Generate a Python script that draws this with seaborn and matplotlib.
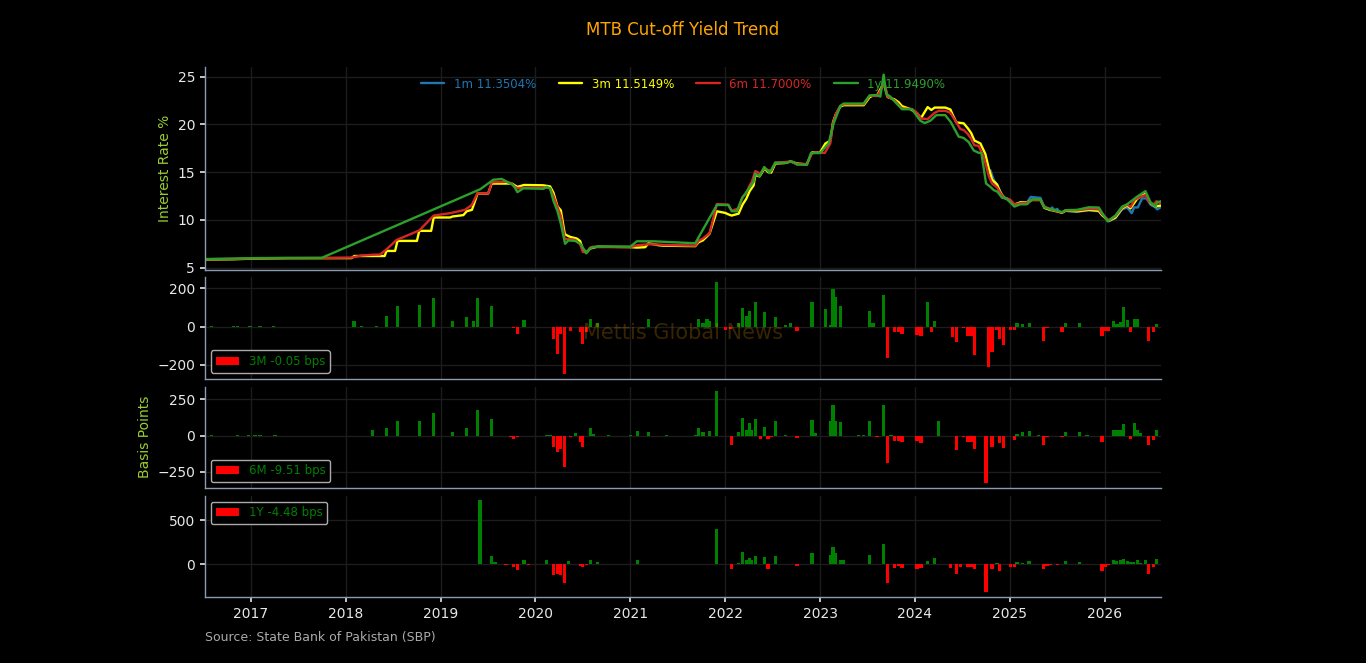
import numpy as np
import pandas as pd
import matplotlib
matplotlib.use("Agg")
import matplotlib.pyplot as plt
from matplotlib.patches import Patch
from matplotlib.lines import Line2D
from matplotlib.ticker import MultipleLocator, FormatStrFormatter
import seaborn as sns

# ---------------- data (x = decimal year) ----------------
t3m = [2016.515, 2016.81, 2017.04, 2017.39, 2018.06, 2018.09, 2018.41, 2018.43, 2018.52, 2018.545,
       2018.75, 2018.775, 2018.90, 2018.927, 2019.10, 2019.124, 2019.24, 2019.275, 2019.33, 2019.36,
       2019.388, 2019.50, 2019.539, 2019.75, 2019.809, 2019.88, 2020.08, 2020.154, 2020.189, 2020.232,
       2020.267, 2020.309, 2020.348, 2020.372, 2020.435, 2020.471, 2020.499, 2020.541, 2020.576, 2020.654,
       2021.00, 2021.07, 2021.156, 2021.191, 2021.244, 2021.297, 2021.343, 2021.684, 2021.719, 2021.765,
       2021.807, 2021.835, 2021.912, 2022.00, 2022.028, 2022.067, 2022.141, 2022.183, 2022.222, 2022.257,
       2022.299, 2022.317, 2022.362, 2022.415, 2022.45, 2022.485, 2022.528, 2022.633, 2022.686, 2022.756,
       2022.86, 2022.914, 2023.00, 2023.055, 2023.108, 2023.136, 2023.164, 2023.213, 2023.248, 2023.46,
       2023.523, 2023.558, 2023.60, 2023.67, 2023.713, 2023.786, 2023.829, 2023.864, 2023.95, 2024.022,
       2024.064, 2024.134, 2024.173, 2024.208, 2024.32, 2024.374, 2024.398, 2024.437, 2024.514, 2024.556,
       2024.592, 2024.627, 2024.69, 2024.742, 2024.778, 2024.813, 2024.866, 2024.894, 2024.936, 2024.964,
       2025.006, 2025.048, 2025.112, 2025.182, 2025.235, 2025.323, 2025.365, 2025.428, 2025.551, 2025.586,
       2025.71, 2025.833, 2025.938, 2025.973, 2026.044, 2026.114, 2026.184, 2026.237, 2026.272, 2026.342,
       2026.43, 2026.483, 2026.536, 2026.595]
y3m = [5.85, 5.88, 5.95, 5.99, 6.00, 6.22, 6.22, 6.75, 6.75, 7.8,
       7.8, 8.85, 8.85, 10.25, 10.25, 10.35, 10.5, 10.9, 11.05, 11.9,
       12.75, 12.75, 13.8, 13.8, 13.45, 13.65, 13.62, 13.5, 12.85, 11.4,
       11.0, 8.5, 8.3, 8.2, 8.05, 7.78, 6.9, 6.6, 7.0, 7.2,
       7.15, 7.1, 7.14, 7.55, 7.45, 7.35, 7.3, 7.25, 7.66, 7.86,
       8.27, 8.56, 10.9, 10.73, 10.6, 10.45, 10.65, 11.6, 12.2, 13.0,
       13.6, 14.7, 14.55, 15.4, 15.0, 14.95, 15.9, 15.95, 16.12, 15.9,
       15.8, 17.05, 17.05, 17.98, 18.3, 20.2, 21.0, 21.85, 22.0, 22.0,
       22.85, 23.0, 23.0, 24.3, 22.85, 22.6, 22.3, 21.9, 21.6, 21.15,
       20.65, 21.8, 21.5, 21.75, 21.75, 21.55, 21.0, 20.2, 20.1, 19.6,
       19.1, 18.3, 18.0, 16.9, 15.4, 14.2, 13.7, 13.0, 12.3, 12.25,
       12.0, 11.6, 11.84, 11.84, 12.08, 12.08, 11.25, 11.05, 10.75, 10.95,
       10.9, 11.05, 10.95, 10.5, 9.9, 10.25, 11.2, 11.5, 11.2, 12.2,
       12.75, 11.75, 11.4, 11.5149]

t6m = [2016.515, 2016.81, 2017.04, 2017.39, 2017.75, 2018.06, 2018.167, 2018.284, 2018.361, 2018.43,
       2018.536, 2018.776, 2018.927, 2019.10, 2019.257, 2019.328, 2019.388, 2019.503, 2019.539, 2019.697,
       2019.743, 2019.767, 2019.809, 2019.873, 2020.119, 2020.154, 2020.189, 2020.232, 2020.267, 2020.309,
       2020.40, 2020.418, 2020.471, 2020.499, 2020.541, 2020.576, 2020.611, 2020.65, 2021.0, 2021.075,
       2021.2, 2021.297, 2021.35, 2021.684, 2021.719, 2021.765, 2021.835, 2021.912, 2022.028, 2022.067,
       2022.141, 2022.183, 2022.222, 2022.257, 2022.281, 2022.317, 2022.369, 2022.415, 2022.45, 2022.485,
       2022.528, 2022.633, 2022.686, 2022.756, 2022.86, 2022.914, 2022.95, 2023.05, 2023.108, 2023.136,
       2023.164, 2023.213, 2023.25, 2023.459, 2023.523, 2023.6, 2023.645, 2023.677, 2023.713, 2023.786,
       2023.829, 2023.864, 2023.97, 2024.022, 2024.064, 2024.134, 2024.208, 2024.251, 2024.32, 2024.374,
       2024.437, 2024.479, 2024.514, 2024.556, 2024.592, 2024.627, 2024.672, 2024.725, 2024.75, 2024.778,
       2024.813, 2024.866, 2024.894, 2024.936, 2024.97, 2025.006, 2025.049, 2025.112, 2025.182, 2025.235,
       2025.323, 2025.358, 2025.428, 2025.551, 2025.586, 2025.71, 2025.833, 2025.938, 2025.973, 2026.044,
       2026.114, 2026.184, 2026.237, 2026.272, 2026.315, 2026.35, 2026.43, 2026.466, 2026.512, 2026.547,
       2026.595]
y6m = [5.88, 5.92, 5.98, 6.01, 6.02, 6.05, 6.27, 6.35, 6.37, 6.92,
       7.9, 8.9, 10.45, 10.7, 11.05, 11.56, 12.77, 12.77, 13.95, 13.98,
       13.85, 13.55, 13.3, 13.36, 13.36, 13.3, 12.5, 11.35, 10.4, 8.0,
       7.94, 7.9, 7.45, 6.65, 6.6, 7.1, 7.2, 7.15, 7.15, 7.35,
       7.45, 7.42, 7.38, 7.3, 7.8, 8.05, 8.6, 11.65, 11.6, 10.95,
       11.2, 12.4, 12.8, 13.6, 14.0, 15.1, 14.85, 15.45, 15.2, 15.15,
       16.0, 16.05, 16.1, 15.85, 15.85, 16.95, 17.05, 17.0, 18.0, 20.1,
       21.0, 21.95, 22.1, 22.1, 23.0, 22.95, 23.65, 24.4, 22.9, 22.5,
       22.05, 21.65, 21.6, 21.2, 20.6, 20.55, 21.2, 21.41, 21.41, 21.2,
       20.2, 19.5, 19.4, 19.0, 18.5, 17.8, 17.75, 16.6, 15.7, 14.6,
       13.8, 13.4, 12.9, 12.3, 12.25, 12.1, 11.6, 11.75, 11.8, 12.1,
       12.1, 11.45, 11.1, 10.8, 11.0, 11.0, 11.15, 11.1, 10.6, 9.95,
       10.4, 11.3, 11.6, 11.35, 12.1, 12.3, 12.6, 11.9, 11.6, 11.95,
       11.70]

t1y = [2016.515, 2016.81, 2017.04, 2017.39, 2017.745, 2019.416, 2019.556, 2019.644, 2019.715, 2019.767,
       2019.809, 2019.873, 2020.084, 2020.119, 2020.154, 2020.189, 2020.232, 2020.267, 2020.312, 2020.347,
       2020.418, 2020.471, 2020.499, 2020.534, 2020.576, 2020.646, 2021.0, 2021.068, 2021.244, 2021.684,
       2021.912, 2022.035, 2022.07, 2022.123, 2022.176, 2022.299, 2022.317, 2022.362, 2022.411, 2022.468,
       2022.527, 2022.65, 2022.703, 2022.756, 2022.861, 2022.904, 2023.002, 2023.09, 2023.143, 2023.213,
       2023.248, 2023.459, 2023.523, 2023.6, 2023.635, 2023.67, 2023.698, 2023.733, 2023.864, 2023.969,
       2024.057, 2024.103, 2024.162, 2024.226, 2024.32, 2024.38, 2024.461, 2024.514, 2024.567, 2024.62,
       2024.672, 2024.70, 2024.75, 2024.795, 2024.83, 2024.87, 2024.918, 2024.964, 2025.048, 2025.112,
       2025.182, 2025.235, 2025.323, 2025.365, 2025.428, 2025.551, 2025.586, 2025.71, 2025.833, 2025.938,
       2026.03, 2026.114, 2026.184, 2026.237, 2026.342, 2026.43, 2026.483, 2026.536, 2026.553, 2026.595]
y1y = [5.9, 5.95, 6.0, 6.02, 6.02, 13.2, 14.2, 14.28, 13.9, 13.64,
       12.9, 13.3, 13.25, 13.45, 13.3, 12.0, 10.9, 9.6, 7.5, 7.85,
       7.8, 7.5, 7.1, 6.5, 7.05, 7.2, 7.2, 7.76, 7.76, 7.55,
       11.56, 11.56, 10.9, 10.9, 12.25, 13.98, 14.84, 14.57, 15.53, 14.91,
       15.98, 15.98, 16.12, 15.78, 15.78, 16.99, 16.99, 18.02, 20.1, 21.9,
       22.17, 22.17, 23.03, 23.03, 22.9, 25.2, 23.13, 22.96, 21.58, 21.58,
       20.37, 20.13, 20.37, 20.96, 20.96, 20.2, 18.71, 18.57, 18.13, 17.26,
       17.02, 17.0, 13.8, 13.46, 13.12, 12.94, 12.32, 12.25, 11.39, 11.63,
       11.63, 12.15, 12.15, 11.29, 11.15, 10.8, 11.01, 11.05, 11.32, 11.29,
       9.84, 10.46, 11.39, 11.63, 12.43, 13.01, 11.84, 11.39, 11.84, 11.949]

t1m = [2024.795, 2024.83, 2024.87, 2024.918, 2024.964, 2025.048, 2025.112, 2025.182, 2025.22, 2025.323,
       2025.365, 2025.43, 2025.446, 2025.47, 2025.50, 2025.52, 2025.551, 2025.586, 2025.71, 2025.833,
       2025.938, 2025.973, 2026.044, 2026.114, 2026.184, 2026.237, 2026.285, 2026.31, 2026.35, 2026.395,
       2026.44, 2026.483, 2026.536, 2026.553, 2026.595]
y1m = [15.2, 14.2, 13.6, 12.6, 12.2, 11.55, 11.8, 11.8, 12.4, 12.3,
       11.3, 11.0, 11.3, 11.0, 11.15, 10.85, 10.75, 10.95, 10.85, 11.0,
       10.9, 10.5, 9.85, 10.2, 11.1, 11.3, 10.7, 11.3, 11.3, 12.25,
       12.25, 11.6, 11.3, 11.1, 11.35]

tenors = ["1m", "3m", "6m", "1y"]
tenor_colors = ["#1f77b4", "#ffff00", "#d62728", "#2ca02c"]
tenor_labels = ["1m 11.3504%", "3m 11.5149%", "6m 11.7000%", "1y 11.9490%"]

# bar changes in basis points
b3m_t = [2016.539, 2016.585, 2016.814, 2016.856, 2016.99, 2017.042, 2017.077, 2017.095, 2017.236,
         2018.087, 2018.167, 2018.325, 2018.431, 2018.544, 2018.776, 2018.927, 2019.124, 2019.275, 2019.345,
         2019.388, 2019.539, 2019.767, 2019.809, 2019.880, 2019.943, 2020.077, 2020.189, 2020.232, 2020.267,
         2020.309, 2020.372, 2020.471, 2020.499, 2020.541, 2020.576, 2020.654, 2021.191, 2021.244, 2021.297,
         2021.343, 2021.719, 2021.765, 2021.807, 2021.835, 2021.912, 2022.000, 2022.053, 2022.141, 2022.183,
         2022.222, 2022.257, 2022.317, 2022.415, 2022.528, 2022.633, 2022.686, 2022.756, 2022.914, 2023.055,
         2023.108, 2023.136, 2023.164, 2023.213, 2023.523, 2023.558, 2023.600, 2023.670, 2023.713, 2023.786,
         2023.829, 2023.864, 2024.022, 2024.064, 2024.134, 2024.173, 2024.208, 2024.398, 2024.437, 2024.514,
         2024.556, 2024.592, 2024.627, 2024.778, 2024.813, 2024.866, 2024.894, 2024.936, 2025.006, 2025.049,
         2025.077, 2025.130, 2025.210, 2025.358, 2025.393, 2025.471, 2025.551, 2025.586, 2025.738, 2025.893,
         2025.973, 2026.009, 2026.044, 2026.096, 2026.131, 2026.167, 2026.195, 2026.237, 2026.272, 2026.315,
         2026.350, 2026.466, 2026.512, 2026.547]
b3m_v = [-3, 3, 3, 2, 2, -3, -2, 3, 2,
         29, 3, 3, 55, 106, 111, 152, 29, 50, 29,
         152, 106, -5, -39, 34, -3, -3, -65, -142, -39,
         -250, -22, -27, -90, -27, 41, 20, 38, -3, -3,
         -2, 41, 20, 41, 29, 234, -17, -14, 20, 97,
         58, 84, 128, 79, 51, 7, 20, -22, 130, 92,
         7, 197, 157, 106, 84, 20, -3, 166, -164, -27,
         -27, -41, -44, -48, 130, -27, 27, -56, -79, -10,
         -51, -48, -147, -212, -133, -17, -68, -96, -17, -17,
         20, 12, 20, -74, -10, -3, -27, 17, 20, -3,
         -48, -22, -22, 29, 12, 24, 103, 34, -31, 41,
         41, -74, -31, 12]

b6m_t = [2016.539, 2016.585, 2016.856, 2016.972, 2017.042, 2017.095, 2017.253,
         2018.284, 2018.431, 2018.544, 2018.776, 2018.927, 2019.124, 2019.275, 2019.388, 2019.539, 2019.743,
         2019.767, 2019.809, 2020.119, 2020.154, 2020.189, 2020.232, 2020.267, 2020.309, 2020.372, 2020.418,
         2020.471, 2020.499, 2020.541, 2020.576, 2020.611, 2020.769, 2020.998, 2021.075, 2021.191, 2021.297,
         2021.343, 2021.385, 2021.684, 2021.719, 2021.765, 2021.835, 2021.912, 2022.028, 2022.067, 2022.141,
         2022.183, 2022.222, 2022.257, 2022.281, 2022.317, 2022.369, 2022.415, 2022.450, 2022.485, 2022.528,
         2022.633, 2022.756, 2022.914, 2022.950, 2022.985, 2023.108, 2023.136, 2023.164, 2023.213, 2023.407,
         2023.459, 2023.523, 2023.600, 2023.670, 2023.713, 2023.748, 2023.786, 2023.829, 2023.864, 2024.022,
         2024.064, 2024.251, 2024.398, 2024.437, 2024.514, 2024.556, 2024.592, 2024.627, 2024.750, 2024.813,
         2024.894, 2024.936, 2025.006, 2025.049, 2025.077, 2025.130, 2025.210, 2025.305, 2025.358, 2025.393,
         2025.471, 2025.551, 2025.586, 2025.738, 2025.815, 2025.973, 2026.009, 2026.044, 2026.096, 2026.131,
         2026.167, 2026.195, 2026.272, 2026.315, 2026.350, 2026.378, 2026.466, 2026.512, 2026.547]
b6m_v = [-3, 2, 2, 2, 2, 2, 2,
         41, 55, 102, 102, 157, 27, 55, 177, 116, -11,
         -27, -11, 3, 3, -80, -114, -95, -220, -11, 18,
         -45, -80, -3, 52, 11, 3, 3, 34, 25, -5,
         -5, 2, 3, 52, 25, 34, 307, -5, -68, 27,
         123, 41, 84, 41, 116, -25, 61, -25, -11, 102,
         3, -18, 109, 18, -3, 102, 211, 102, 95, 3,
         3, 102, -11, 211, -193, 3, -39, -39, -45, -39,
         -52, 102, -5, -102, -11, -45, -45, -95, -330, -80,
         -50, -86, -5, -30, 11, 23, 34, 3, -68, -11,
         -3, -11, 23, 25, 3, -45, -5, -5, 41, 41,
         41, 80, -23, 89, 41, 20, -68, -30, 41]

b1y_t = [2016.585, 2016.902, 2016.990, 2017.095, 2017.323, 2017.394,
         2019.416, 2019.539, 2019.574, 2019.690, 2019.767, 2019.809, 2019.880, 2019.926, 2020.119, 2020.189,
         2020.232, 2020.267, 2020.309, 2020.348, 2020.471, 2020.499, 2020.541, 2020.576, 2020.654, 2020.928,
         2020.998, 2021.075, 2021.912, 2022.067, 2022.141, 2022.183, 2022.222, 2022.257, 2022.281, 2022.317,
         2022.415, 2022.450, 2022.528, 2022.686, 2022.721, 2022.756, 2022.914, 2022.985, 2023.108, 2023.136,
         2023.164, 2023.213, 2023.248, 2023.284, 2023.523, 2023.670, 2023.713, 2023.786, 2023.829, 2023.864,
         2024.022, 2024.064, 2024.134, 2024.208, 2024.374, 2024.437, 2024.479, 2024.556, 2024.592, 2024.627,
         2024.750, 2024.813, 2024.866, 2024.894, 2025.006, 2025.049, 2025.077, 2025.130, 2025.202, 2025.358,
         2025.393, 2025.428, 2025.506, 2025.586, 2025.738, 2025.780, 2025.815, 2025.973, 2026.009, 2026.044,
         2026.091, 2026.127, 2026.167, 2026.195, 2026.237, 2026.272, 2026.305, 2026.350, 2026.378, 2026.431,
         2026.466, 2026.512, 2026.547]
b1y_v = [2, 2, 2, 2, 2, 2,
         724, 97, 22, -15, -30, -67, 52, -8, 45, -127,
         -108, -123, -209, 34, -26, -37, -8, 52, 22, 3,
         3, 52, 403, -52, 8, 134, 45, 67, 45, 97,
         78, -52, 97, 5, 5, -22, 123, 5, 108, 190,
         123, 52, 45, 5, 100, 224, -209, -41, -22, -41,
         -52, -45, 34, 67, -41, -108, -30, -30, -37, -60,
         -321, -52, 15, -75, -37, -30, 22, 15, 34, -60,
         -22, -5, -5, 34, 22, 5, 5, -75, -30, -15,
         45, 34, 52, 60, 34, 22, 22, 45, 15, 45,
         -108, -30, 60]

bar_labels = ["3M -0.05 bps", "6M -9.51 bps", "1Y -4.48 bps"]

title_text = "MTB Cut-off Yield Trend"
source_text = "Source: State Bank of Pakistan (SBP)"
watermark_text = "Mettis Global News"

# ---------------- style ----------------
sns.set_theme(style="dark")
plt.rcParams['font.family'] = ['DejaVu Sans']
spine_col = "#8a9bb0"
grid_col = "#1c1c1c"
plt.rcParams.update({
    "figure.facecolor": "black",
    "axes.facecolor": "black",
    "savefig.facecolor": "black",
    "axes.edgecolor": spine_col,
    "text.color": "white",
    "xtick.color": "#dddddd",
    "ytick.color": "#dddddd",
    "xtick.labelsize": 10,
    "ytick.labelsize": 10,
    "xtick.bottom": True,
    "ytick.left": True,
    "xtick.major.size": 3.5,
    "ytick.major.size": 3.5,
})

fig = plt.figure(figsize=(13.66, 6.63), dpi=100)
gs = fig.add_gridspec(4, 1, height_ratios=[2, 1, 1, 1], hspace=0.062,
                      left=0.150, right=0.850, top=0.899, bottom=0.0995)
ax1 = fig.add_subplot(gs[0])
ax2 = fig.add_subplot(gs[1], sharex=ax1)
ax3 = fig.add_subplot(gs[2], sharex=ax1)
ax4 = fig.add_subplot(gs[3], sharex=ax1)
axes = [ax1, ax2, ax3, ax4]

# lines
frames = []
for name, t, y in zip(tenors, [t1m, t3m, t6m, t1y], [y1m, y3m, y6m, y1y]):
    frames.append(pd.DataFrame({"year": t, "rate": y, "tenor": name}))
df = pd.concat(frames, ignore_index=True)
sns.lineplot(data=df, x="year", y="rate", hue="tenor", hue_order=tenors,
             palette=tenor_colors, estimator=None, linewidth=1.7, ax=ax1, legend=False)

handles = [Line2D([0], [0], color=c, lw=1.7) for c in tenor_colors]
leg = ax1.legend(handles, tenor_labels, loc="upper center", ncol=4, frameon=False,
                 fontsize=8.5, columnspacing=1.9)
for txt, c in zip(leg.get_texts(), tenor_colors):
    txt.set_color(c)

ax1.set_ylim(4.8, 26.0)
ax1.yaxis.set_major_locator(MultipleLocator(5))
ax1.set_ylabel("Interest Rate %", color="#9acd32", fontsize=10)
ax1.set_xlabel("")

# bars
for ax, t, v, lab, loc in zip([ax2, ax3, ax4], [b3m_t, b6m_t, b1y_t], [b3m_v, b6m_v, b1y_v],
                              bar_labels, ["lower left", "lower left", "upper left"]):
    v = np.asarray(v, dtype=float)
    cols = np.where(v >= 0, "green", "red")
    ax.bar(t, v, width=0.034, color=cols, linewidth=0)
    lg = ax.legend([Patch(facecolor="red", edgecolor="red", linewidth=0)], [lab], loc=loc,
                   fontsize=8.5, facecolor="black", edgecolor="#aaaaaa", framealpha=1)
    for txt in lg.get_texts():
        txt.set_color("green")

ax2.yaxis.set_major_locator(MultipleLocator(200))
ax3.yaxis.set_major_locator(MultipleLocator(250))
ax4.yaxis.set_major_locator(MultipleLocator(500))
ax3.set_ylabel("Basis Points", color="#9acd32", fontsize=10)

ax2.text(0.5, 0.45, watermark_text, transform=ax2.transAxes, ha="center", va="center",
         color="orange", alpha=0.22, fontsize=15, zorder=5)

for ax in axes:
    ax.grid(True, color=grid_col, linewidth=1)
    ax.set_axisbelow(True)
    for s in ["top", "right"]:
        ax.spines[s].set_visible(False)
    for s in ["left", "bottom"]:
        ax.spines[s].set_color(spine_col)
        ax.spines[s].set_linewidth(1)
    ax.tick_params(axis="both", colors="#dddddd", labelcolor="#e8e8e8")

for ax in [ax1, ax2, ax3]:
    ax.tick_params(axis="x", labelbottom=False, length=0)

ax4.xaxis.set_major_locator(MultipleLocator(1))
ax4.xaxis.set_major_formatter(FormatStrFormatter("%d"))
ax1.set_xlim(min(t1y), max(t1y))

fig.suptitle(title_text, color="#ffa500", fontsize=12, y=0.968)
fig.text(0.150, 0.038, source_text, color="#aaaaaa", fontsize=9, ha="left", va="center")

fig.savefig("out.png", dpi=100, facecolor="black")
